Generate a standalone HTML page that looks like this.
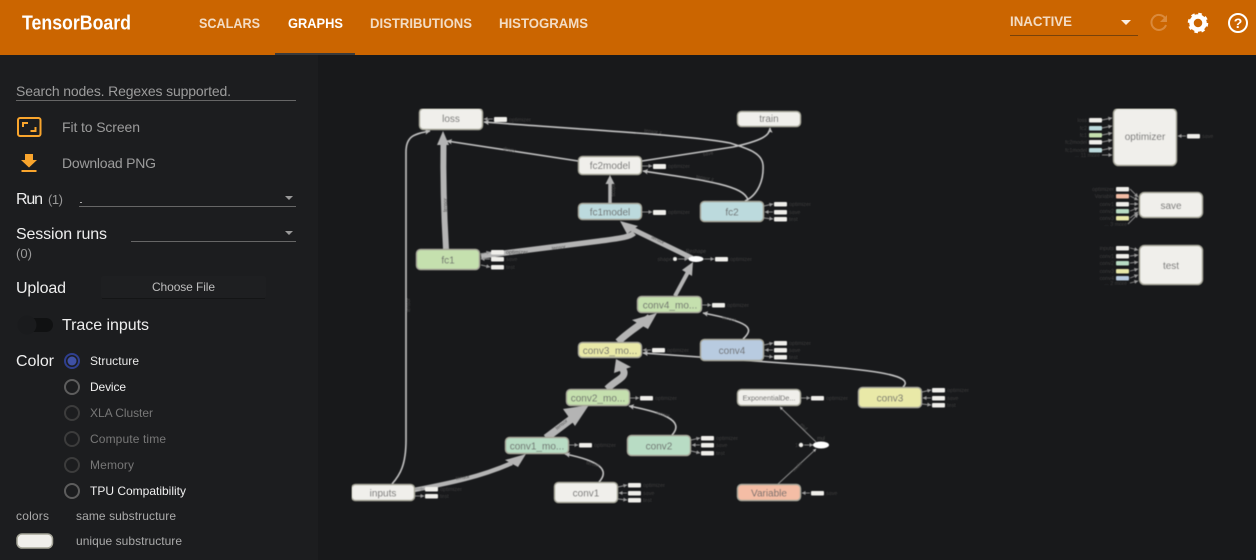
<!DOCTYPE html>
<html><head><meta charset="utf-8"><title>TensorBoard</title>
<style>
html,body{margin:0;padding:0;background:#18191b;width:1256px;height:560px;overflow:hidden}
svg{display:block;font-family:"Liberation Sans",sans-serif;position:absolute;left:0;top:0}
.tab{font-size:14px;font-weight:bold;fill:#f3dcc4}
.n{stroke:#a5a598;stroke-width:1.5}
.w{fill:#f0efeb}.tl{fill:#bcdadd}.g{fill:#c5e0ae}.m{fill:#b8dcc4}.y{fill:#e9e9a8}.b{fill:#b8cbe0}.o{fill:#f4bda5}
.nt{font-size:10px;fill:#6a6a6a;text-anchor:middle}
.a{fill:#f0efeb}
.s{font-size:5.4px;fill:#3c3c3c}
.e{font-size:5px;fill:#484848}
.r{text-anchor:end}
.t{fill:none;stroke:#c4c4c4;stroke-width:1.6;marker-end:url(#h)}
.k{fill:none;stroke:#b4b4b4}
.hd{fill:#b4b4b4}
.x{fill:none;stroke:#8f8f8f;stroke-width:.9;marker-end:url(#x)}
.side{font-size:14px;fill:#9c9c9c}
.lab{font-size:16px;fill:#eeeeee}
.rad{fill:none;stroke:#5d5d5d;stroke-width:2}
.dim{stroke:#3c3c3c}
.rt{font-size:12px}
</style></head><body>
<svg width="1256" height="560" viewBox="0 0 1256 560" xmlns="http://www.w3.org/2000/svg">
<defs>
<marker id="h" viewBox="0 0 10 10" refX="9" refY="5" markerWidth="3.4" markerHeight="3.4" orient="auto"><path d="M0 0L10 5L0 10L2 5z" fill="#bdbdbd"/></marker>
<marker id="x" viewBox="0 0 10 10" refX="9" refY="5" markerWidth="4.5" markerHeight="4.5" orient="auto"><path d="M0 0L10 5L0 10z" fill="#999"/></marker>
<filter id="bl" x="0" y="0" width="100%" height="100%"><feGaussianBlur stdDeviation="0.45"/></filter>
</defs>
<rect width="1256" height="560" fill="#18191b"/>
<rect width="318" height="505" y="55" fill="#1c1d1f"/>
<rect width="1256" height="55" fill="#cb6500"/>
<rect x="275" y="53" width="80" height="2" fill="#3a3a3a"/>

<text x="22" y="29.5" font-size="20" font-weight="bold" fill="#fff" textLength="109" lengthAdjust="spacingAndGlyphs">TensorBoard</text>
<text class="tab" x="199" y="28" textLength="61" lengthAdjust="spacingAndGlyphs">SCALARS</text>
<text class="tab" x="288" y="28" textLength="55" lengthAdjust="spacingAndGlyphs" style="fill:#fff">GRAPHS</text>
<text class="tab" x="370" y="28" textLength="102" lengthAdjust="spacingAndGlyphs">DISTRIBUTIONS</text>
<text class="tab" x="499" y="28" textLength="89" lengthAdjust="spacingAndGlyphs">HISTOGRAMS</text>
<text class="tab" x="1010" y="26" textLength="62" lengthAdjust="spacingAndGlyphs">INACTIVE</text>
<rect x="1010" y="35" width="128" height="1" fill="#77420b"/>
<path d="M1121 20h10l-5 5z" fill="#fbeee0"/>
<path d="M1165 18a7.500 7.500 0 1 0 1 7" fill="none" stroke="#da8a3c" stroke-width="2"/><path d="M1167 15v7h-7z" fill="#da8a3c"/>
<circle cx="1198" cy="23" r="6.500" fill="none" stroke="#fff" stroke-width="4.500"/>
<circle cx="1198" cy="23" r="9" fill="none" stroke="#fff" stroke-width="2.500" stroke-dasharray="3.500 3.570"/>
<circle cx="1238" cy="23" r="9" fill="none" stroke="#fff" stroke-width="2"/>
<text x="1238" y="28" font-size="14" font-weight="bold" fill="#fff" text-anchor="middle">?</text>

<text class="side" x="16" y="96" textLength="215">Search nodes. Regexes supported.</text>
<rect x="16" y="100" width="280" height="1" fill="#666"/>
<rect x="18" y="118" width="22.500" height="18" rx="2" fill="none" stroke="#f9a52d" stroke-width="2"/>
<path d="M23 127v-4h5M35.500 127v4h-5" fill="none" stroke="#f9a52d" stroke-width="2"/>
<text class="side" x="62" y="132" textLength="78">Fit to Screen</text>
<path d="M25 154h8v6h4l-8 7.500l-8-7.500h4zM21.500 170h15v2h-15z" fill="#f9a52d"/>
<text class="side" x="62" y="168" textLength="94">Download PNG</text>
<text class="lab" x="16" y="204" textLength="27">Run</text>
<text x="48" y="204" font-size="13" fill="#999" textLength="15">(1)</text>
<rect x="79" y="206" width="217" height="1" fill="#666"/><rect x="80" y="202" width="2" height="1" fill="#aaa"/>
<path d="M285 196h8l-4 4z" fill="#999"/>
<text class="lab" x="16" y="239" textLength="91">Session runs</text>
<rect x="131" y="241" width="165" height="1" fill="#666"/>
<path d="M285 231h8l-4 4z" fill="#999"/>
<text x="16" y="258" font-size="13" fill="#999" textLength="16">(0)</text>
<text class="lab" x="16" y="293" textLength="50">Upload</text>
<rect x="101" y="276" width="165" height="22" rx="2" fill="#1e1f21"/>
<rect x="102" y="298" width="163" height="1" fill="#141516"/>
<text x="152" y="291" font-size="12" fill="#bdbdbd" textLength="63">Choose File</text>
<rect x="18" y="318" width="35" height="14" rx="7" fill="#101112"/>
<circle cx="27" cy="325" r="9.500" fill="#1a1b1d"/>
<text class="lab" x="62" y="330" textLength="87">Trace inputs</text>
<text class="lab" x="16" y="366" textLength="38">Color</text>
<circle cx="72" cy="361" r="7" fill="none" stroke="#2f3f8f" stroke-width="2"/><circle cx="72" cy="361" r="4.500" fill="#3f51a5"/>
<circle class="rad" cx="72" cy="387" r="7"/>
<circle class="rad dim" cx="72" cy="413" r="7"/>
<circle class="rad dim" cx="72" cy="439" r="7"/>
<circle class="rad dim" cx="72" cy="465" r="7"/>
<circle class="rad" cx="72" cy="491" r="7"/>
<text class="rt" x="90" y="365" fill="#e8e8e8" textLength="49">Structure</text>
<text class="rt" x="90" y="391" fill="#f0f0f0" textLength="36">Device</text>
<text class="rt" x="90" y="417" fill="#777" textLength="63">XLA Cluster</text>
<text class="rt" x="90" y="443" fill="#777" textLength="76">Compute time</text>
<text class="rt" x="90" y="469" fill="#777" textLength="44">Memory</text>
<text class="rt" x="90" y="495" fill="#f0f0f0" textLength="96">TPU Compatibility</text>
<text class="rt" x="16" y="520" fill="#aaa" textLength="33">colors</text>
<text class="rt" x="76" y="520" fill="#aaa" textLength="100">same substructure</text>
<rect x="17" y="534" width="35.500" height="14" rx="5" fill="#f0efeb" stroke="#a5a598" stroke-width="1.500"/>
<text class="rt" x="76" y="545" fill="#aaa" textLength="106">unique substructure</text>

<g filter="url(#bl)">
<!-- main edges -->
<path class="t" d="M392 484C400 475 406 465 406 440L406 152C406 136 414 134 430 131"/>
<path class="k" d="M446 249C444 215 443 175 443.500 140" style="stroke-width:6"/><path class="hd" d="M443 131L449 145L437 145z"/>
<path class="t" d="M578 161L447 141"/>
<path class="t" d="M745 201C758 195 764 180 763 165C762 152 745 148 730 143C690 135 560 128 484 122"/>
<path class="t" d="M748 200C744 186 710 181 643 171"/>
<path class="t" d="M642 161L733 147C760 141 770 136 770 128"/>
<path class="k" d="M610 203L610 182" style="stroke-width:3.500"/><path class="hd" d="M610 175L614.500 184L605.500 184z"/>
<path class="k" d="M481 256L600 241C622 238 630 237 634 233" style="stroke-width:5.500"/>
<path class="k" d="M692 258L630 228" style="stroke-width:5"/>
<path class="hd" d="M620 221L638 226L627 234z"/>
<path class="k" d="M675 296L688 272" style="stroke-width:4"/><path class="hd" d="M693 262L692 276L682 270z"/>
<path class="k" d="M618 342C627 333 640 325 650 317" style="stroke-width:7"/><path class="hd" d="M657 313L632 320L648 329z"/>
<path class="k" d="M607 389C616 380 625 378 624 372C623 368 621 368 620 366" style="stroke-width:7"/><path class="hd" d="M616 359L631 367L614 373z"/>
<path class="k" d="M546 438L578 414" style="stroke-width:7.500"/><path class="hd" d="M589 405L563 409L575 426z"/>
<path class="k" d="M414 490C450 483 480 477 512 463" style="stroke-width:4.500"/><path class="hd" d="M526 454L518 467L505 460z"/>
<path class="t" d="M599 482C610 470 600 461 565 454"/>
<path class="t" d="M672 435C686 420 660 412 629 406"/>
<path class="t" d="M903 387C916 375 870 370 810 365L643 353"/>
<path class="t" d="M743 339C755 328 750 322 703 313"/>
<path class="t" style="stroke:#8f8f8f;stroke-width:1" d="M778 484L816 449"/>
<path class="t" style="stroke:#8f8f8f;stroke-width:1" d="M816 442L780 407"/>

<!-- edge labels -->
<text class="e" transform="translate(447 205) rotate(-90)" text-anchor="middle">tensor</text>
<text class="e" x="503" y="150" transform="rotate(9 503 150)">dropy</text>
<text class="e" x="644" y="132" transform="rotate(7 644 132)">tensor z</text>
<text class="e" x="703" y="156" transform="rotate(-8 703 156)">save</text>
<text class="e" x="696" y="178" transform="rotate(10 696 178)">tensor z</text>
<text class="e" transform="translate(615 190) rotate(-90)" text-anchor="middle">scope</text>
<text class="e" x="552" y="250" transform="rotate(-7 552 250)">tensor</text>
<text class="e" x="651" y="238" transform="rotate(27 651 238)">tensor</text>
<text class="e" x="722" y="319" transform="rotate(10 722 319)">tensor</text>
<text class="e" x="656" y="414" transform="rotate(14 656 414)">tensor</text>
<text class="e" x="586" y="464" transform="rotate(14 586 464)">tensor</text>
<text class="e" x="456" y="480" transform="rotate(-8 456 480)">tensor</text>
<text class="e" transform="translate(410 305) rotate(-90)" text-anchor="middle">tensor</text>
<text class="e" x="800" y="425" transform="rotate(45 800 425)">mul</text>
<text class="e" x="794" y="472" transform="rotate(-45 794 472)">scale</text>
<text class="e" x="557" y="430" transform="rotate(-38 557 430)">tensor</text>

<!-- nodes -->
<rect class="n w" x="419.500" y="108.500" width="63" height="21" rx="4"/><text class="nt" x="451" y="122">loss</text>
<rect class="n w" x="737.500" y="111.500" width="63" height="15" rx="4"/><text class="nt" x="769" y="122">train</text>
<rect class="n w" x="578.500" y="156.500" width="63" height="18" rx="4"/><text class="nt" x="610" y="169">fc2model</text>
<rect class="n tl" x="578.500" y="203.500" width="63" height="16" rx="4"/><text class="nt" x="610" y="215.500">fc1model</text>
<rect class="n tl" x="700.500" y="201.500" width="63" height="20" rx="4"/><text class="nt" x="732" y="215.500">fc2</text>
<rect class="n g" x="416.500" y="249.500" width="63" height="20" rx="4"/><text class="nt" x="448" y="263.500">fc1</text>
<rect class="n g" x="637.500" y="296.500" width="64" height="16" rx="4"/><text class="nt" x="670" y="308.500">conv4_mo...</text>
<rect class="n y" x="578.500" y="342.500" width="63" height="15" rx="4"/><text class="nt" x="610" y="354">conv3_mo...</text>
<rect class="n b" x="700.500" y="339.500" width="63" height="21" rx="4"/><text class="nt" x="732" y="354">conv4</text>
<rect class="n g" x="566.500" y="389.500" width="63" height="16" rx="4"/><text class="nt" x="598" y="401.500">conv2_mo...</text>
<rect class="n w" x="737.500" y="389.500" width="63" height="16" rx="4"/><text class="nt" x="769" y="400.500" style="font-size:7.200px;fill:#555">ExponentialDe...</text>
<rect class="n y" x="858.500" y="387.500" width="63" height="20" rx="4"/><text class="nt" x="890" y="401.500">conv3</text>
<rect class="n m" x="505.500" y="437.500" width="63" height="16" rx="4"/><text class="nt" x="537" y="449.500">conv1_mo...</text>
<rect class="n m" x="627.500" y="435.500" width="63" height="20" rx="4"/><text class="nt" x="659" y="449.500">conv2</text>
<rect class="n w" x="351.500" y="484.500" width="63" height="16" rx="4"/><text class="nt" x="383" y="496.500">inputs</text>
<rect class="n w" x="554.500" y="482.500" width="63" height="20" rx="4"/><text class="nt" x="586" y="496.500">conv1</text>
<rect class="n o" x="737.500" y="484.500" width="63" height="16" rx="4"/><text class="nt" x="769" y="496.500">Variable</text>
<rect class="n w" x="1113.500" y="108.500" width="63" height="57" rx="5"/><text class="nt" x="1145" y="140">optimizer</text>
<rect class="n w" x="1139.500" y="192.500" width="63" height="25" rx="5"/><text class="nt" x="1171" y="209">save</text>
<rect class="n w" x="1139.500" y="245.500" width="63" height="39" rx="5"/><text class="nt" x="1171" y="269">test</text>
<ellipse cx="696" cy="259" rx="7.500" ry="3" fill="#fff"/>
<text class="e" x="696" y="253" text-anchor="middle">Reshape</text>
<ellipse cx="821" cy="445" rx="8" ry="3.500" fill="#fff"/>
<text class="e" x="821" y="440" text-anchor="middle">mul</text>

<!-- aux connectors -->
<path class="x" d="M493 119L484 119"/><path class="x" d="M642 166L652 166"/><path class="x" d="M642 212L652 212"/>
<path class="x" d="M764 206L773 204"/><path class="x" d="M773 212L765 212"/><path class="x" d="M764 218L773 219"/>
<path class="x" d="M481 254L490 252"/><path class="x" d="M490 259L481 259"/><path class="x" d="M481 265L490 267"/>
<path class="x" d="M678 259L688 259"/><path class="x" d="M704 259L714 259"/><path class="x" d="M702 305L711 305"/>
<path class="x" d="M651 350L643 350"/><path class="x" d="M764 345L773 343"/><path class="x" d="M773 350L765 350"/><path class="x" d="M764 356L773 357"/>
<path class="x" d="M630 398L639 398"/><path class="x" d="M801 398L810 398"/>
<path class="x" d="M922 392L931 390"/><path class="x" d="M931 398L923 398"/><path class="x" d="M922 404L931 405"/>
<path class="x" d="M569 445L578 445"/><path class="x" d="M691 440L700 438"/><path class="x" d="M700 445L692 445"/><path class="x" d="M691 451L700 453"/>
<path class="x" d="M415 489L424 489"/><path class="x" d="M415 496L424 496"/>
<path class="x" d="M618 487L627 485"/><path class="x" d="M627 493L619 493"/><path class="x" d="M618 499L627 500"/>
<path class="x" d="M810 493L802 493"/><path class="x" d="M804 445L813 445"/>
<path class="x" d="M1102 120L1112 118"/><path class="x" d="M1102 128L1112 126"/><path class="x" d="M1102 135L1112 133"/><path class="x" d="M1102 142L1112 140"/><path class="x" d="M1102 150L1112 148"/><path class="x" d="M1102 155L1112 155"/>
<path class="x" d="M1186 136L1178 136"/>
<path class="x" d="M1130 189L1138 197"/><path class="x" d="M1130 196L1138 200"/><path class="x" d="M1130 204L1138 204"/><path class="x" d="M1130 211L1138 208"/><path class="x" d="M1130 218L1138 212"/><path class="x" d="M1128 224L1138 214"/>
<path class="x" d="M1130 248L1138 250"/><path class="x" d="M1130 256L1138 255"/><path class="x" d="M1130 263L1138 262"/><path class="x" d="M1130 271L1138 269"/><path class="x" d="M1130 278L1138 275"/><path class="x" d="M1130 283L1138 281"/>

<!-- aux nodes -->
<rect class="a" x="494" y="117" width="13" height="5" rx="1"/><text class="s" x="509" y="121.500">optimizer</text>
<rect class="a" x="653" y="164" width="13" height="5" rx="1"/><text class="s" x="668" y="168">optimizer</text>
<rect class="a" x="653" y="210" width="13" height="5" rx="1"/><text class="s" x="668" y="214">optimizer</text>
<rect class="a" x="774" y="202" width="13" height="4.500" rx="1"/><text class="s" x="789" y="206">optimizer</text>
<rect class="a" x="774" y="210" width="13" height="4.500" rx="1"/><text class="s" x="789" y="214">save</text>
<rect class="a" x="774" y="217" width="13" height="4.500" rx="1"/><text class="s" x="789" y="221">test</text>
<rect class="a" x="491" y="250" width="13" height="4.500" rx="1"/><text class="s" x="506" y="254">optimizer</text>
<rect class="a" x="491" y="257" width="13" height="4.500" rx="1"/><text class="s" x="506" y="261">save</text>
<rect class="a" x="491" y="265" width="13" height="4.500" rx="1"/><text class="s" x="506" y="269">test</text>
<circle class="a" cx="675" cy="259" r="2"/><text class="s r" x="672" y="261">shape</text>
<rect class="a" x="715" y="257" width="13" height="4.500" rx="1"/><text class="s" x="730" y="261">optimizer</text>
<rect class="a" x="712" y="303" width="13" height="4.500" rx="1"/><text class="s" x="727" y="307">optimizer</text>
<rect class="a" x="652" y="348" width="13" height="4.500" rx="1"/><text class="s" x="667" y="352">optimizer</text>
<rect class="a" x="774" y="341" width="13" height="4.500" rx="1"/><text class="s" x="789" y="345">optimizer</text>
<rect class="a" x="774" y="348" width="13" height="4.500" rx="1"/><text class="s" x="789" y="352">save</text>
<rect class="a" x="774" y="355" width="13" height="4.500" rx="1"/><text class="s" x="789" y="359">test</text>
<rect class="a" x="640" y="396" width="13" height="4.500" rx="1"/><text class="s" x="655" y="400">optimizer</text>
<rect class="a" x="811" y="396" width="13" height="4.500" rx="1"/><text class="s" x="826" y="400">optimizer</text>
<rect class="a" x="932" y="388" width="13" height="4.500" rx="1"/><text class="s" x="947" y="392">optimizer</text>
<rect class="a" x="932" y="396" width="13" height="4.500" rx="1"/><text class="s" x="947" y="400">save</text>
<rect class="a" x="932" y="403" width="13" height="4.500" rx="1"/><text class="s" x="947" y="407">test</text>
<rect class="a" x="579" y="443" width="13" height="4.500" rx="1"/><text class="s" x="594" y="447">optimizer</text>
<rect class="a" x="701" y="436" width="13" height="4.500" rx="1"/><text class="s" x="716" y="440">optimizer</text>
<rect class="a" x="701" y="443" width="13" height="4.500" rx="1"/><text class="s" x="716" y="447">save</text>
<rect class="a" x="701" y="451" width="13" height="4.500" rx="1"/><text class="s" x="716" y="455">test</text>
<rect class="a" x="425" y="487" width="13" height="4.500" rx="1"/><text class="s" x="440" y="491">optimizer</text>
<rect class="a" x="425" y="494" width="13" height="4.500" rx="1"/><text class="s" x="440" y="498">test</text>
<rect class="a" x="628" y="483" width="13" height="4.500" rx="1"/><text class="s" x="643" y="487">optimizer</text>
<rect class="a" x="628" y="491" width="13" height="4.500" rx="1"/><text class="s" x="643" y="495">save</text>
<rect class="a" x="628" y="498" width="13" height="4.500" rx="1"/><text class="s" x="643" y="502">test</text>
<rect class="a" x="811" y="491" width="13" height="4.500" rx="1"/><text class="s" x="826" y="495">save</text>
<circle class="a" cx="801" cy="445" r="2.200"/><text class="s r" x="798" y="447">1</text>
<rect class="w" x="1089" y="118" width="13" height="4.500" rx="1"/><text class="s r" x="1087" y="122">loss</text>
<rect class="tl" x="1089" y="126" width="13" height="4.500" rx="1"/><text class="s r" x="1087" y="130">fc2</text>
<rect class="g" x="1089" y="133" width="13" height="4.500" rx="1"/><text class="s r" x="1087" y="137">fc1</text>
<rect class="w" x="1089" y="140" width="13" height="4.500" rx="1"/><text class="s r" x="1087" y="144">fc2model</text>
<rect class="tl" x="1089" y="148" width="13" height="4.500" rx="1"/><text class="s r" x="1087" y="152">fc1model</text>
<text class="s r" x="1100" y="157">... 11 more</text>
<rect class="a" x="1187" y="134" width="13" height="4.500" rx="1"/><text class="s" x="1202" y="138">save</text>
<rect class="w" x="1116" y="187" width="13" height="4.500" rx="1"/><text class="s r" x="1114" y="191">optimizer</text>
<rect class="o" x="1116" y="194" width="13" height="4.500" rx="1"/><text class="s r" x="1114" y="198">Variable</text>
<rect class="w" x="1116" y="202" width="13" height="4.500" rx="1"/><text class="s r" x="1114" y="206">conv1</text>
<rect class="m" x="1116" y="209" width="13" height="4.500" rx="1"/><text class="s r" x="1114" y="213">conv2</text>
<rect class="y" x="1116" y="216" width="13" height="4.500" rx="1"/><text class="s r" x="1114" y="220">conv3</text>
<text class="s r" x="1127" y="226">... 3 more</text>
<rect class="w" x="1116" y="246" width="13" height="4.500" rx="1"/><text class="s r" x="1114" y="250">inputs</text>
<rect class="w" x="1116" y="254" width="13" height="4.500" rx="1"/><text class="s r" x="1114" y="258">conv1</text>
<rect class="m" x="1116" y="261" width="13" height="4.500" rx="1"/><text class="s r" x="1114" y="265">conv2</text>
<rect class="y" x="1116" y="269" width="13" height="4.500" rx="1"/><text class="s r" x="1114" y="273">conv3</text>
<rect class="b" x="1116" y="276" width="13" height="4.500" rx="1"/><text class="s r" x="1114" y="280">conv4</text>
<text class="s r" x="1127" y="285">... 2 more</text>
</g>
</svg>
</body></html>
